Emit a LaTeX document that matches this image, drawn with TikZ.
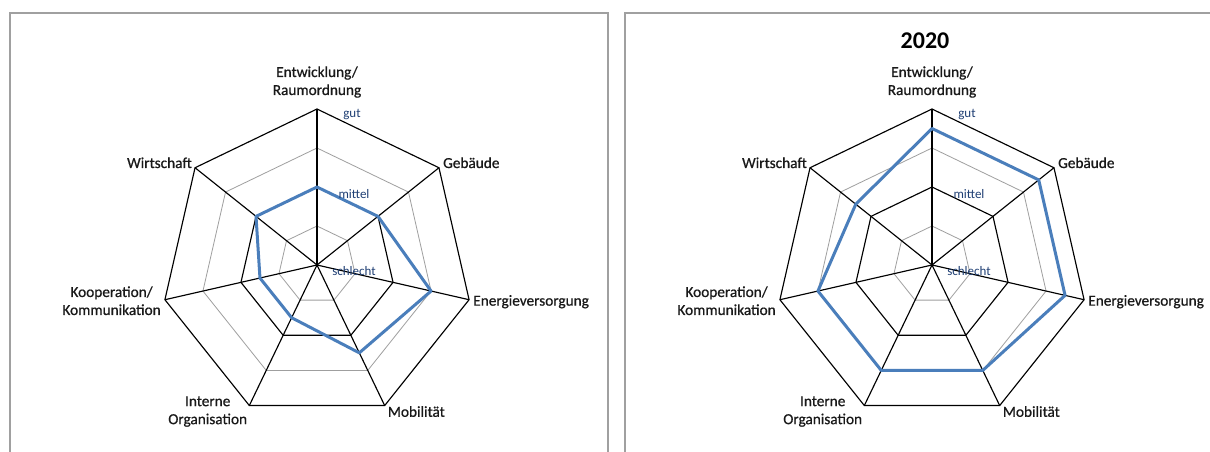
\documentclass[tikz,border=0pt]{standalone}
\usepackage{fontspec}
\setmainfont{Carlito}
\newfontfamily\axisfont{Carlito}[FakeBold=0.7]
\definecolor{framegray}{HTML}{A0A0A0}
\definecolor{seriesblue}{HTML}{4A7EBB}
\definecolor{ticknavy}{HTML}{1F3F74}
\tikzset{
  framebox/.style={draw=framegray,line width=1.8pt},
  minorring/.style={draw=gray!75,line width=0.8pt},
  majorring/.style={draw=black,line width=1.15pt},
  axisline/.style={draw=black,line width=1.15pt},
  seriesline/.style={draw=seriesblue,line width=3pt,line join=round},
  axlabel/.style={font=\axisfont\fontsize{15.3}{18}\selectfont,align=center,inner sep=0pt,text=black!90},
  ticklabel/.style={font=\fontsize{13}{15}\selectfont,inner sep=0pt,text=ticknavy},
  charttitle/.style={font=\fontsize{24}{28}\selectfont\bfseries,inner sep=0pt}
}
\newcommand\radarchart[4]{%
 \begin{scope}[shift={(#2,#3)}]
  \coordinate (#1-c) at (0,0);
  \foreach \i in {0,...,6}{\coordinate (#1-v\i) at (-90+\i*360/7:156);}
  \foreach \r/\st in {0.25/minorring,0.75/minorring,0.5/majorring,1/majorring}{
    \draw[\st] (-90:\r*156) \foreach \i in {1,...,6}{-- (-90+\i*360/7:\r*156)} -- cycle;}
  \foreach \i in {0,...,6}{\draw[axisline] (#1-c) -- (#1-v\i);}
  \foreach \v [count=\i from 0] in {#4}{\coordinate (#1-p\i) at (-90+\i*360/7:\v*156);}
  \draw[seriesline] (#1-p0) -- (#1-p1) -- (#1-p2) -- (#1-p3) -- (#1-p4) -- (#1-p5) -- (#1-p6) -- cycle;
  \node[ticklabel] (#1-gut) at ([shift={(35,6)}]#1-v0) {gut};
  \node[ticklabel] (#1-mittel) at ([shift={(37,-71)}]#1-c) {mittel};
  \node[ticklabel] (#1-schlecht) at ([shift={(37,6)}]#1-c) {schlecht};
  \node[axlabel] (#1-l0) at ([shift={(0,-27)}]#1-v0) {Entwicklung/\\Raumordnung};
  \node[axlabel,anchor=west] (#1-l1) at ([shift={(4,-5)}]#1-v1) {Gebäude};
  \node[axlabel,anchor=west] (#1-l2) at ([shift={(4,2)}]#1-v2) {Energieversorgung};
  \node[axlabel,anchor=west] (#1-l3) at ([shift={(3,6)}]#1-v3) {Mobilität};
  \node[axlabel,anchor=east] (#1-l4) at ([shift={(-2,6)}]#1-v4) {Interne\\Organisation};
  \node[axlabel,anchor=east] (#1-l5) at ([shift={(-4,1)}]#1-v5) {Kooperation/\\Kommunikation};
  \node[axlabel,anchor=east] (#1-l6) at ([shift={(-3,-5)}]#1-v6) {Wirtschaft};
 \end{scope}}
\begin{document}
\begin{tikzpicture}[x=1pt,y=-1pt]
\useasboundingbox (0,0) rectangle (1210,452);
\clip (0,0) rectangle (1210,452);
\fill[white] (0,0) rectangle (1210,452);
\draw[framebox] (10,470) -- (10,13) -- (608,13) -- (608,470);
\draw[framebox] (625,470) -- (625,13) -- (1230,13);
\radarchart{L}{317}{265}{0.5,0.5,0.75,0.625,0.375,0.375,0.5}
\radarchart{R}{932}{265}{0.875,0.875,0.875,0.75,0.75,0.75,0.625}
\node[charttitle] (R-title) at (925,40.5) {2020};
\end{tikzpicture}
\end{document}
